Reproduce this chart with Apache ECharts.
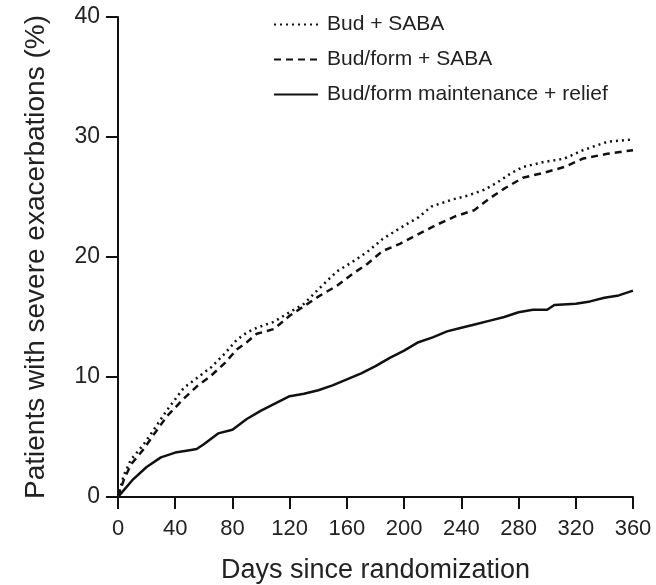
<!DOCTYPE html>
<html>
<head>
<meta charset="utf-8">
<script src="https://cdn.jsdelivr.net/npm/echarts@6/dist/echarts.min.js"></script>
<style>
  html, body { margin: 0; padding: 0; background: #fff; }
  #chart { width: 656px; height: 585px; }
</style>
</head>
<body>
<div id="chart"></div>
<script>
// Series names
const seriesNames = ['Bud + SABA', 'Bud/form + SABA', 'Bud/form maintenance + relief'];

// Bud + SABA (dotted) : [day, %]
const budSaba = [
  [0, 0], [4, 1.8], [9, 3.1], [18, 4.4], [25, 5.6], [34, 7.2], [46, 9.1], [55, 9.9],
  [65, 10.8], [75, 12.0], [83, 13.1], [90, 13.7], [97, 14.1], [109, 14.6], [120, 15.4],
  [130, 16.1], [140, 17.3], [153, 18.8], [164, 19.6], [174, 20.4], [185, 21.5], [197, 22.4],
  [210, 23.3], [219, 24.2], [234, 24.8], [244, 25.1], [256, 25.6], [265, 26.2], [275, 27.0],
  [283, 27.5], [297, 27.9], [312, 28.2], [325, 28.9], [342, 29.6], [360, 29.8]
];

// Bud/form + SABA (dashed)
const budFormSaba = [
  [0, 0], [4, 1.4], [9, 2.7], [18, 4.0], [25, 5.2], [34, 6.7], [46, 8.2], [55, 9.2],
  [65, 10.1], [75, 11.2], [83, 12.3], [90, 12.9], [97, 13.6], [109, 14.0], [120, 15.1],
  [130, 15.9], [140, 16.7], [153, 17.6], [164, 18.6], [174, 19.4], [185, 20.5], [197, 21.1],
  [210, 21.9], [223, 22.7], [236, 23.4], [249, 23.9], [260, 24.9], [270, 25.7], [283, 26.6],
  [297, 27.0], [312, 27.5], [325, 28.2], [342, 28.6], [360, 28.9]
];

// Bud/form maintenance + relief (solid)
const budFormSmart = [
  [0, 0], [5, 0.7], [10, 1.4], [20, 2.5], [30, 3.3], [40, 3.7], [50, 3.9], [55, 4.0],
  [60, 4.4], [70, 5.3], [80, 5.6], [90, 6.5], [100, 7.2], [110, 7.8], [120, 8.4],
  [130, 8.6], [140, 8.9], [150, 9.3], [160, 9.8], [170, 10.3], [180, 10.9], [190, 11.6],
  [200, 12.2], [210, 12.9], [220, 13.3], [230, 13.8], [240, 14.1], [250, 14.4], [260, 14.7],
  [270, 15.0], [280, 15.4], [290, 15.6], [300, 15.6], [305, 16.0], [320, 16.1], [330, 16.3],
  [340, 16.6], [350, 16.8], [360, 17.2]
];

// Axis ticks
const xTicks = [0, 40, 80, 120, 160, 200, 240, 280, 320, 360];
const yTicks = [0, 10, 20, 30, 40];

const FONT = '"Liberation Sans", Arial, Helvetica, sans-serif';
const TXT = '#222';

const chart = echarts.init(document.getElementById('chart'), null, { renderer: 'canvas' });
chart.setOption({
  animation: false,
  backgroundColor: '#fff',
  textStyle: { fontFamily: FONT },
  grid: { left: 118, right: 23, top: 17, bottom: 88, containLabel: false, outerBoundsMode: 'none' },
  legend: {
    orient: 'vertical',
    left: 268,
    top: 9,
    itemWidth: 44,
    itemHeight: 14,
    itemGap: 14,
    itemStyle: { opacity: 0 },
    textStyle: { fontFamily: FONT, fontSize: 21, color: TXT, padding: [0, 0, 0, 4] },
    data: seriesNames
  },
  xAxis: {
    type: 'value',
    min: xTicks[0],
    max: xTicks[xTicks.length - 1],
    interval: 40,
    name: 'Days since randomization',
    nameLocation: 'middle',
    nameGap: 60,
    nameTextStyle: { fontFamily: FONT, fontSize: 27, color: TXT },
    axisLine: { show: true, lineStyle: { color: '#111', width: 2 } },
    axisTick: { show: true, length: 12, lineStyle: { color: '#111', width: 2 } },
    axisLabel: { fontFamily: FONT, fontSize: 22, color: TXT, margin: 21 },
    splitLine: { show: false }
  },
  yAxis: {
    type: 'value',
    min: yTicks[0],
    max: yTicks[yTicks.length - 1],
    interval: 10,
    name: 'Patients with severe exacerbations (%)',
    nameLocation: 'middle',
    nameGap: 68,
    nameTextStyle: { fontFamily: FONT, fontSize: 28, color: TXT },
    axisLine: { show: true, lineStyle: { color: '#111', width: 2 } },
    axisTick: { show: true, length: 12, lineStyle: { color: '#111', width: 2 } },
    axisLabel: { fontFamily: FONT, fontSize: 23, color: TXT, margin: 18 },
    splitLine: { show: false }
  },
  series: [
    {
      name: seriesNames[0], type: 'line', data: budSaba, showSymbol: false, symbol: 'none',
      lineStyle: { color: '#111', width: 2.5, type: [2, 4] },
      itemStyle: { color: '#111' }
    },
    {
      name: seriesNames[1], type: 'line', data: budFormSaba, showSymbol: false, symbol: 'none',
      lineStyle: { color: '#111', width: 2.5, type: [7, 5] },
      itemStyle: { color: '#111' }
    },
    {
      name: seriesNames[2], type: 'line', data: budFormSmart, showSymbol: false, symbol: 'none',
      lineStyle: { color: '#111', width: 2.5, type: 'solid' },
      itemStyle: { color: '#111' }
    }
  ]
});
</script>
</body>
</html>
